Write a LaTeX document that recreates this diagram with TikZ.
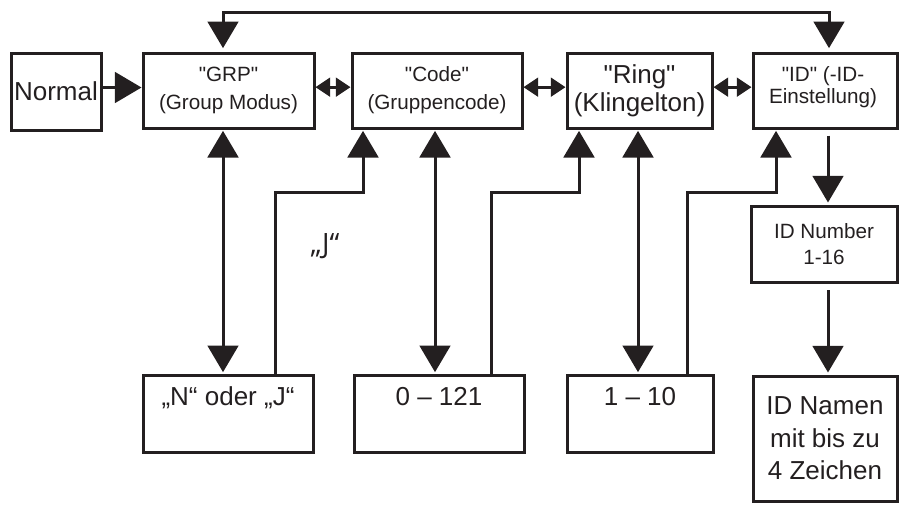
\documentclass[tikz,border=0pt]{standalone}
\usepackage{fontspec}
\setmainfont{Liberation Sans}[Ligatures=TeXOff]
\newfontfamily\jfont{Open Sans}[Ligatures=TeXOff]
\usetikzlibrary{arrows.meta}
\definecolor{ink}{RGB}{35,31,32}
\tikzset{
  box/.style={draw=ink, text=ink, line width=2.25pt, inner sep=0pt, align=center},
  bigtxt/.style={font=\fontsize{19.5}{23}\selectfont},
  smalltxt/.style={font=\fontsize{15.5}{20}\selectfont},
  conn/.style={draw=ink, line width=2.25pt},
  tipbig/.tip={Triangle[length=20pt,width=23pt]},
  tipsmall/.tip={Triangle[length=11pt,width=14pt]},
}
\begin{document}
\begin{tikzpicture}[x=0.75pt,y=-0.75pt]
\useasboundingbox (0,0) rectangle (899,504);
% top row
\node[box,bigtxt,minimum width=67.5pt,minimum height=57.75pt] (normal) at (56,91.5) {Normal};
\node[box,minimum width=128.25pt,minimum height=56.25pt,font=\fontsize{15.5}{21}\selectfont] (grp) at (228.5,90.5) {"GRP"\\(Group Modus)};
\node[box,minimum width=127.5pt,minimum height=56.25pt,font=\fontsize{15.5}{21}\selectfont] (code) at (437,90.5) {"Code"\\(Gruppencode)};
\node[box,minimum width=108.75pt,minimum height=56.25pt,font=\fontsize{19.5}{21}\selectfont] (ring) at (639.5,90.5) {"Ring"\\(Klingelton)};
\node[box,minimum width=108pt,minimum height=56.25pt] (id) at (825,90.5) {};
\node[text=ink,align=center,font=\fontsize{15.5}{17}\selectfont] (idtxt) at (823,87) {"ID" (-ID-\\Einstellung)};
% right column
\node[box,minimum width=109.5pt,minimum height=57pt,font=\fontsize{15.5}{20}\selectfont] (idnum) at (824,244) {ID Number\\1-16};
\node[box,minimum width=108pt,minimum height=93.75pt,font=\fontsize{19.5}{24.4}\selectfont] (idnamen) at (825,438.5) {ID Namen\\mit bis zu\\4 Zeichen};
% bottom row
\node[box,minimum width=127.5pt,minimum height=57.75pt,font=\fontsize{19.5}{20}\selectfont] (nj) at (228,413.5) {„N“ oder „J“\\\strut};
\node[box,minimum width=127.5pt,minimum height=57.75pt,font=\fontsize{19.5}{20}\selectfont] (c121) at (439,413.5) {0 – 121\\\strut};
\node[box,minimum width=109.5pt,minimum height=57.75pt,font=\fontsize{19.5}{20}\selectfont] (r10) at (640,413.5) {1 – 10\\\strut};
% label
\node[text=ink,font=\jfont\fontsize{21}{22}\selectfont] (jlab) at (325,246) {„J“};
% coordinates
\coordinate (t1) at (223,12);
\coordinate (t2) at (829,12);
\coordinate (v1) at (223,0);
\coordinate (v2) at (435,0);
\coordinate (v3) at (638,0);
\coordinate (a1) at (275,192);
\coordinate (b1) at (363,192);
\coordinate (a2) at (491,192);
\coordinate (b2) at (579,192);
\coordinate (a3) at (687,192);
\coordinate (b3) at (776,192);
\coordinate (d1) at (828,0);
% connectors
\draw[conn,-tipbig] ([yshift=3pt]normal.east) -- ([yshift=3pt]grp.west |- normal.east);
\draw[conn,tipbig-tipbig,shorten <=2.5pt,shorten >=2.5pt] (grp.north -| t1) -- (t1) -- (t2) -- (id.north -| t2);
\draw[conn,tipsmall-tipsmall] ([yshift=2.5pt]grp.east) -- ([yshift=2.5pt]code.west);
\draw[conn,tipsmall-tipsmall] ([yshift=2.5pt]code.east) -- ([yshift=2.5pt]ring.west);
\draw[conn,tipsmall-tipsmall] ([yshift=2.5pt]ring.east) -- ([yshift=2.5pt]id.west);
\draw[conn,tipbig-tipbig,shorten <=1pt,shorten >=1pt] (grp.south -| v1) -- (nj.north -| v1);
\draw[conn,tipbig-tipbig,shorten <=1pt,shorten >=1pt] (code.south -| v2) -- (c121.north -| v2);
\draw[conn,tipbig-tipbig,shorten <=1pt,shorten >=1pt] (ring.south -| v3) -- (r10.north -| v3);
\draw[conn,-tipbig,shorten >=1pt] (nj.north -| a1) -- (a1) -- (b1) -- (code.south -| b1);
\draw[conn,-tipbig,shorten >=1pt] (c121.north -| a2) -- (a2) -- (b2) -- (ring.south -| b2);
\draw[conn,-tipbig,shorten >=1pt] (r10.north -| a3) -- (a3) -- (b3) -- (id.south -| b3);
\draw[conn,-tipbig,shorten <=4.5pt,shorten >=1.5pt] (id.south -| d1) -- (idnum.north -| d1);
\draw[conn,-tipbig,shorten <=5pt,shorten >=1.5pt] (idnum.south -| d1) -- (idnamen.north -| d1);
\end{tikzpicture}
\end{document}
